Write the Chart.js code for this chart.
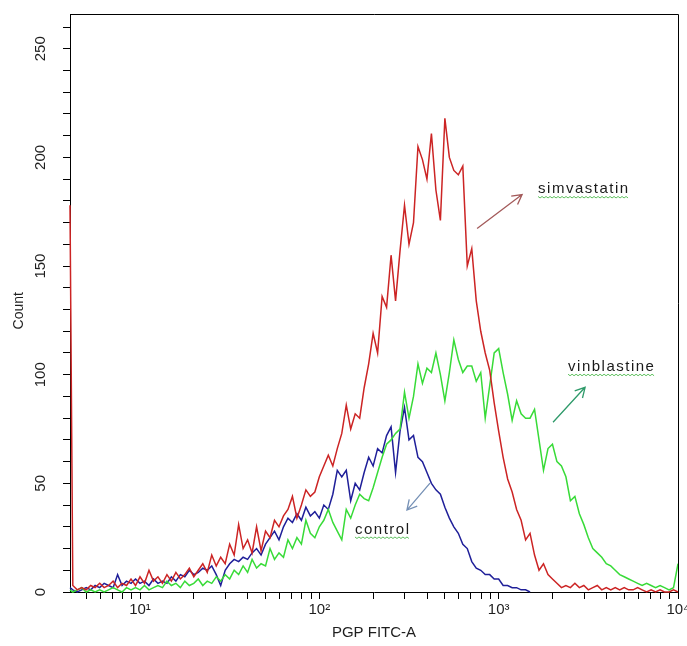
<!DOCTYPE html>
<html><head><meta charset="utf-8">
<script src="https://cdn.jsdelivr.net/npm/chart.js@4.4.1/dist/chart.umd.min.js"></script>
<style>html,body{margin:0;padding:0;background:#fff;}canvas{display:block;}</style>
</head><body>
<canvas id="c" width="687" height="646"></canvas>
<script>
// PGP FITC-A channel positions (fluorescence, log scale)
const fluorescence = [4.07, 4.22, 4.47, 4.73, 5.01, 5.31, 5.62, 5.96, 6.31, 6.68, 7.08, 7.50, 7.94, 8.41, 8.91, 9.44,
  10, 10.59, 11.22, 11.89, 12.59, 13.34, 14.13, 14.96, 15.85, 16.79, 17.78, 18.84, 19.95, 21.13, 22.39, 23.71, 25.12, 26.61, 28.18, 29.85, 31.62, 33.50, 35.48, 37.58, 39.81, 42.17, 44.67, 47.32, 50.12, 53.09, 56.23, 59.57, 63.10, 66.83, 70.79, 74.99, 79.43, 84.14, 89.13, 94.41,
  100, 105.9, 112.2, 118.9, 125.9, 133.4, 141.3, 149.6, 158.5, 167.9, 177.8, 188.4, 199.5, 211.3, 223.9, 237.1, 251.2, 266.1, 281.8, 298.5, 316.2, 335.0, 354.8, 375.8, 398.1, 421.7, 446.7, 473.2, 501.2, 530.9, 562.3, 595.7, 631.0, 668.3, 707.9, 749.9, 794.3, 841.4, 891.3, 944.1,
  1000, 1059, 1122, 1189, 1259, 1334, 1413, 1496, 1585, 1679, 1778, 1884, 1995, 2113, 2239, 2371, 2512, 2661, 2818, 2985, 3162, 3350, 3548, 3758, 3981, 4217, 4467, 4732, 5012, 5309, 5623, 5957, 6310, 6683, 7079, 7499, 7943, 8414, 8913, 9441, 10000];

const simvastatin = [178,
  3,1,2,1,3,2,4,2,3,5, 2,4,3,6,3,7,4,10,5,7, 4,8,5,9,6,8,11,7,10,13, 9,17,12,16,13,22,17,31,20,24,
  18,30,19,28,25,33,30,35,38,44, 34,40,47,44,46,53,58,63,58,66, 73,86,75,82,80,94,105,119,110,136,
  131,155,134,157,178,160,170,205,199,190, 211,185,171,218,200,194,192,196,150,158,
  134,120,110,102,87,74,62,52,46,38, 33,24,27,17,10,13,8,6,4,2, 3,2,4,2,3,1,2,3,1,2,
  1,2,1,2,1,1,2,1,0,1, 0,1,0,0,1,0];

const vinblastine = [1,
  0,1,2,0,1,0,1,0,1,2, 1,0,2,1,2,1,3,1,2,3, 2,5,3,4,2,5,3,4,6,3, 5,4,7,5,8,6,10,8,12,9,
  15,11,13,12,20,15,18,16,24,20, 25,22,33,27,25,30,33,38,32,28, 24,38,34,40,45,43,42,48,55,62,
  68,70,73,75,92,80,90,105,96,103, 101,110,100,88,101,116,107,101,104,104,
  97,101,80,95,110,112,101,91,79,88, 82,80,80,84,70,56,66,68,60,58, 53,42,44,36,31,25,20,18,16,13,
  12,10,8,7,6,5,4,3,4,3, 2,3,2,1,2,13];

const control = [2,
  1,0,1,2,1,3,2,4,3,2, 8,3,5,4,6,4,5,3,6,4, 5,4,7,5,8,7,10,8,9,11, 10,12,8,3,10,13,15,14,16,15,
  18,20,17,22,25,28,24,30,34,32, 36,33,39,35,37,34,40,38,45,56, 53,56,42,50,47,55,62,58,66,64,
  72,76,55,74,85,70,72,62,60,55, 50,47,45,39,34,30,27,22,20,14,
  11,10,8,8,6,6,3,3,2,2, 1,1,0];

const xTickValues = [5,6,7,8,9,10,20,30,40,50,60,70,80,90,100,200,300,400,500,600,700,800,900,
  1000,2000,3000,4000,5000,6000,7000,8000,9000,10000];
const xDecades = [10, 100, 1000, 10000];
const xDecadeLabels = ['10\u00B9', '10\u00B2', '10\u00B3', '10\u2074'];
const yTickValues = [0,10,20,30,40,50,60,70,80,90,100,110,120,130,140,150,160,170,180,190,200,210,220,230,240,250,260];
const yLabelValues = [0,50,100,150,200,250];

const annotations = [
  {text: 'simvastatin', x: 1658, y: 183.4, from: [758, 167.3], to: [1351, 182.9], arrow: '#a35a5a'},
  {text: 'vinblastine', x: 2438, y: 101.6, from: [2010, 78.1], to: [3034, 94.2], arrow: '#2f9a6a'},
  {text: 'control', x: 158, y: 26.7, from: [414, 50.1], to: [308, 37.7], arrow: '#7590b5'}
];

function series(values) { return values.map((y, i) => ({x: fluorescence[i], y: y})); }

const frameAndNotes = {
  id: 'frameAndNotes',
  afterDatasetsDraw(chart) {
    const ctx = chart.ctx, a = chart.chartArea, xs = chart.scales.x, ys = chart.scales.y;
    ctx.save();
    ctx.strokeStyle = '#000'; ctx.lineWidth = 1;
    ctx.beginPath();
    ctx.moveTo(a.left, a.top + 0.5); ctx.lineTo(a.right + 0.5, a.top + 0.5); ctx.lineTo(a.right + 0.5, a.bottom);
    ctx.stroke();
    ctx.font = '15px "Liberation Sans", Arial, sans-serif';
    ctx.letterSpacing = '1.5px';
    ctx.textBaseline = 'alphabetic';
    annotations.forEach(n => {
      const tx = xs.getPixelForValue(n.x), ty = ys.getPixelForValue(n.y);
      ctx.fillStyle = '#1a1a1a';
      ctx.fillText(n.text, tx, ty);
      const w = ctx.measureText(n.text).width;
      // wavy underline
      ctx.strokeStyle = '#5cbf5c'; ctx.lineWidth = 1;
      ctx.beginPath();
      for (let k = 0; k <= w; k += 2) {
        const yy = ty + 3.5 + ((k / 2) % 2 ? 1 : -0.5);
        if (k === 0) ctx.moveTo(tx + k, yy); else ctx.lineTo(tx + k, yy);
      }
      ctx.stroke();
      // arrow
      const x1 = xs.getPixelForValue(n.from[0]), y1 = ys.getPixelForValue(n.from[1]);
      const x2 = xs.getPixelForValue(n.to[0]), y2 = ys.getPixelForValue(n.to[1]);
      const ang = Math.atan2(y2 - y1, x2 - x1), hl = 11, ha = 0.5;
      ctx.strokeStyle = n.arrow; ctx.lineWidth = 1.3;
      ctx.beginPath();
      ctx.moveTo(x1, y1); ctx.lineTo(x2, y2);
      ctx.moveTo(x2 - hl * Math.cos(ang - ha), y2 - hl * Math.sin(ang - ha));
      ctx.lineTo(x2, y2);
      ctx.lineTo(x2 - hl * Math.cos(ang + ha), y2 - hl * Math.sin(ang + ha));
      ctx.stroke();
    });
    ctx.restore();
  }
};

const tickFont = {family: '"Liberation Sans", Arial, sans-serif', size: 15};

new Chart(document.getElementById('c'), {
  type: 'line',
  data: {
    datasets: [
      {label: 'simvastatin', data: series(simvastatin), borderColor: '#cc2424', borderWidth: 1.5, pointRadius: 0, tension: 0, clip: 3},
      {label: 'vinblastine', data: series(vinblastine), borderColor: '#38db38', borderWidth: 1.5, pointRadius: 0, tension: 0, clip: 3},
      {label: 'control', data: series(control), borderColor: '#1f1f99', borderWidth: 1.5, pointRadius: 0, tension: 0, clip: 3}
    ]
  },
  options: {
    responsive: false,
    animation: false,
    devicePixelRatio: 1,
    layout: {padding: {top: 14, right: 9, left: 0, bottom: 0}},
    plugins: {legend: {display: false}, tooltip: {enabled: false}},
    scales: {
      x: {
        type: 'logarithmic', min: 4.07, max: 10000,
        afterBuildTicks: s => { s.ticks = xTickValues.map(v => ({value: v})); },
        afterFit: s => { s.height = 54; s.paddingLeft = 0; s.paddingRight = 0; },
        ticks: {
          autoSkip: false, maxRotation: 0, minRotation: 0, padding: 2, color: '#1e1e1e', font: tickFont,
          callback: v => { const k = xDecades.indexOf(v); return k >= 0 ? xDecadeLabels[k] : ''; }
        },
        grid: {drawOnChartArea: false, drawTicks: true, tickLength: 7, color: '#000', tickWidth: 1},
        border: {color: '#000', width: 1},
        title: {display: true, text: 'PGP FITC-A', color: '#1e1e1e', font: tickFont, padding: {top: 0, bottom: 4}}
      },
      y: {
        type: 'linear', min: 0, max: 266,
        afterBuildTicks: s => { s.ticks = yTickValues.map(v => ({value: v})); },
        afterFit: s => { s.width = 70; s.paddingTop = 0; s.paddingBottom = 0; },
        ticks: {
          autoSkip: false, minRotation: 90, maxRotation: 90, crossAlign: 'center', padding: 10, color: '#1e1e1e', font: tickFont,
          callback: v => yLabelValues.includes(v) ? String(v) : ''
        },
        grid: {drawOnChartArea: false, drawTicks: true, tickLength: 7, color: '#000', tickWidth: 1},
        border: {color: '#000', width: 1},
        title: {display: true, text: 'Count    ', color: '#1e1e1e', font: {family: '"Liberation Sans", Arial, sans-serif', size: 14}, padding: {top: 11, bottom: 0}}
      }
    }
  },
  plugins: [frameAndNotes]
});
</script>
</body></html>
